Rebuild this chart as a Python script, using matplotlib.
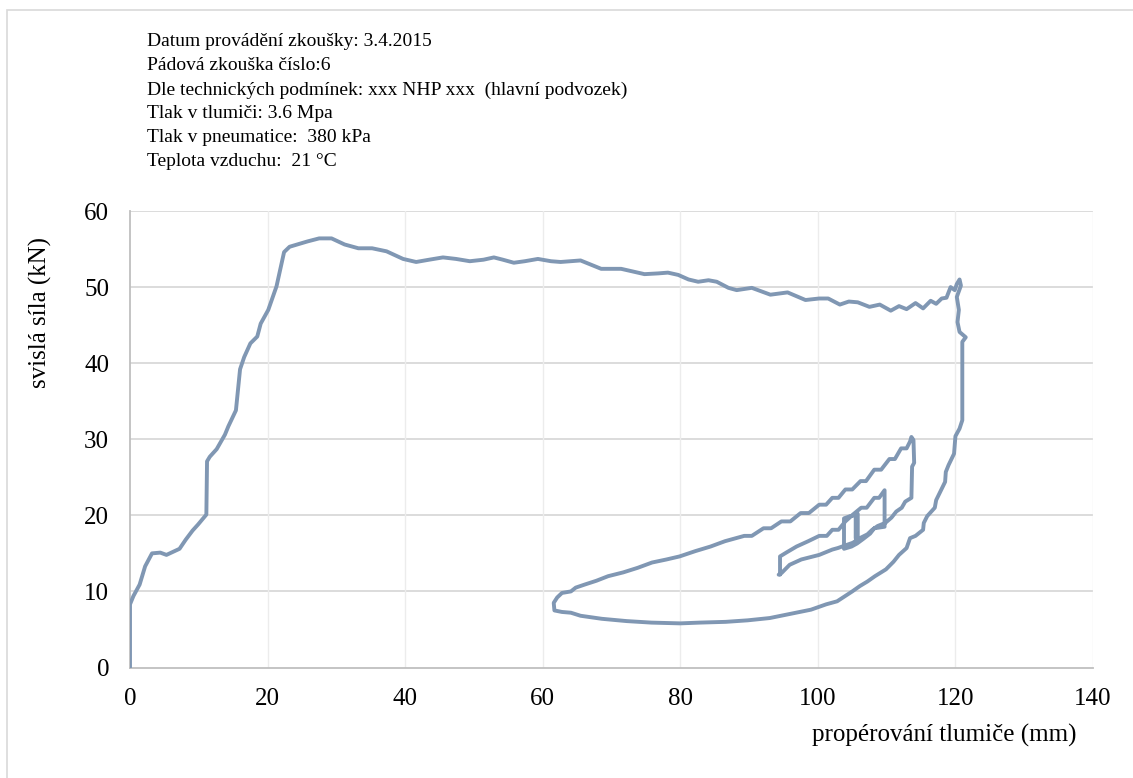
import matplotlib
matplotlib.use("Agg")
import matplotlib.pyplot as plt
from matplotlib.patches import Rectangle

plt.rcParams["font.family"] = ["Liberation Serif", "DejaVu Serif"]

# zdvih tlumiče (mm) a svislá síla (kN), jeden záznam pádové zkoušky
stroke = [
    # stlačení
    0.0, 0.0, 0.5, 1.4, 2.2, 3.2, 4.4, 5.3, 7.2, 8.1, 9.1, 9.9, 11.1, 11.2,
    11.6, 12.6, 13.8, 14.3, 15.4, 16.0, 16.6, 17.5, 18.5, 19.0, 20.1, 21.3,
    22.4, 23.2, 24.3, 25.8, 27.5, 29.3, 31.2, 33.2, 35.2, 37.3, 39.7, 41.6,
    43.5, 45.5, 47.4, 49.4, 51.4, 52.9, 54.2, 55.8, 57.4, 59.3, 61.2, 62.6,
    65.5, 68.5, 71.4, 74.8, 76.8, 78.2, 79.7, 81.2, 82.6, 84.1, 85.3, 87.0,
    88.2, 90.4, 93.1, 95.6, 98.2, 100.2, 101.5, 103.2, 104.5, 105.8, 107.5,
    109.0, 110.6, 111.8, 112.9, 114.2, 115.3, 116.4, 117.2, 118.0, 118.7,
    119.3, 119.9, 120.2, 120.6, 120.8, 120.2, 120.5, 120.3, 120.6, 121.5,
    121.0, 121.0, 121.0,
    # odlehčení a dokmity
    120.6, 120.0, 119.8, 119.0, 118.6, 118.5, 117.8, 117.2, 117.0, 115.9,
    115.4, 115.3, 114.2, 113.4, 112.9, 111.8, 111.0, 109.9, 109.0, 108.3,
    107.2, 106.1, 105.0, 102.8, 101.2, 99.0, 96.3, 93.0, 89.8, 86.6, 82.8,
    80.0, 75.8, 72.2, 68.6, 65.5, 64.1, 62.8, 61.7, 61.6, 62.1, 62.8, 64.1,
    64.8, 66.1, 67.8, 69.5, 71.7, 73.8, 75.9, 78.0, 79.9, 82.2, 84.4, 86.5,
    89.3, 90.4, 92.1, 93.2, 94.7, 96.0, 97.5, 98.7, 100.2, 101.2, 102.1,
    103.0, 104.0, 105.0, 106.2, 107.0, 108.2, 109.2, 110.4, 111.2, 112.1,
    112.9, 113.4, 113.6, 113.9, 114.0, 113.7, 113.6, 112.7, 112.2, 111.4,
    110.7, 109.8, 108.7, 107.9, 107.2, 106.1, 105.1, 102.9, 102.1, 100.2,
    97.6, 95.9, 94.7, 94.3, 94.5, 94.5, 95.4, 96.9, 98.6, 100.2, 101.3,
    102.1, 103.0, 104.0, 105.1, 106.3, 107.1, 107.6, 108.2, 108.9, 109.7,
    109.7, 108.2, 107.6, 106.6, 105.7, 104.9, 103.8, 103.8, 104.7, 105.5,
    105.5, 105.8, 105.8,
]
force = [
    0.0, 8.3, 9.4, 10.9, 13.3, 15.0, 15.1, 14.8, 15.6, 16.8, 18.0, 18.8, 20.1,
    27.1, 27.7, 28.7, 30.6, 31.7, 33.8, 39.2, 40.8, 42.6, 43.5, 45.2, 47.0,
    50.1, 54.6, 55.3, 55.6, 56.0, 56.4, 56.4, 55.6, 55.1, 55.1, 54.7, 53.7,
    53.3, 53.6, 53.9, 53.7, 53.4, 53.6, 53.9, 53.6, 53.2, 53.4, 53.7, 53.4,
    53.3, 53.5, 52.4, 52.4, 51.7, 51.8, 51.9, 51.6, 51.0, 50.7, 50.9, 50.7,
    49.9, 49.6, 49.9, 49.0, 49.3, 48.3, 48.5, 48.5, 47.7, 48.1, 48.0, 47.4,
    47.7, 46.9, 47.5, 47.1, 47.9, 47.2, 48.2, 47.8, 48.5, 48.6, 50.0, 49.6,
    50.4, 51.0, 50.2, 48.7, 47.0, 45.4, 44.1, 43.4, 42.8, 35.0, 32.5,
    31.4, 30.4, 28.1, 26.6, 25.7, 24.4, 23.1, 22.0, 21.0, 19.9, 19.0, 18.1,
    17.3, 17.0, 15.7, 14.8, 13.9, 12.9, 12.4, 12.0, 11.3, 10.7, 10.0, 8.7,
    8.3, 7.6, 7.1, 6.5, 6.2, 6.0, 5.9, 5.8, 5.9, 6.1, 6.4, 6.8, 7.2, 7.3,
    7.5, 8.5, 9.2, 9.8, 10.0, 10.5, 10.9, 11.4, 12.0, 12.5, 13.1, 13.8, 14.2,
    14.6, 15.3, 15.9, 16.6, 17.3, 17.3, 18.3, 18.3, 19.2, 19.2, 20.3, 20.3,
    21.4, 21.4, 22.3, 22.3, 23.4, 23.4, 24.5, 24.5, 26.0, 26.0, 27.4, 27.4,
    28.8, 28.8, 29.7, 30.3, 29.9, 26.9, 26.4, 22.3, 21.8, 21.0, 20.5, 19.7,
    19.0, 18.6, 18.1, 17.5, 17.0, 16.4, 15.7, 15.5, 14.8, 14.2, 13.5, 12.4,
    12.2, 12.2, 14.6, 15.1, 15.9, 16.6, 17.3, 17.3, 18.1, 18.1, 19.2, 20.1,
    21.0, 21.0, 21.6, 22.3, 22.3, 23.3, 18.5, 18.3, 17.6, 16.9, 16.3, 15.9,
    15.6, 19.6, 19.9, 20.0, 17.0, 17.2, 20.2,
]

info_lines = [
    "Datum provádění zkoušky: 3.4.2015",
    "Pádová zkouška číslo:6",
    "Dle technických podmínek: xxx NHP xxx  (hlavní podvozek)",
    "Tlak v tlumiči: 3.6 Mpa",
    "Tlak v pneumatice:  380 kPa",
    "Teplota vzduchu:  21 °C",
]

W, H = 1133, 778
fig = plt.figure(figsize=(W / 100, H / 100), dpi=100)
ax = fig.add_axes([130 / W, 1 - 667.5 / H, (1093 - 130) / W, (667.5 - 211) / H])

# rámeček grafu
fig.patches.append(Rectangle((7 / W, -0.1), 1.2, 1.1 - 10 / H,
                             transform=fig.transFigure, fill=False,
                             edgecolor="#d9d9d9", linewidth=1.2))

ax.plot(stroke, force, color="#8097b3", linewidth=2.8, solid_joinstyle="round",
        solid_capstyle="round", zorder=3)

ax.set_xlim(0, 140)
ax.set_ylim(0, 60)
ax.set_xticks(range(0, 141, 20))
ax.set_yticks(range(0, 61, 10))

for y in range(10, 61, 10):
    ax.axhline(y, color="#d9d9d9", linewidth=1.3, zorder=1)
for x in range(20, 141, 20):
    ax.axvline(x, color="#ececec", linewidth=1.0, zorder=1)

for side in ("top", "right"):
    ax.spines[side].set_visible(False)
for side in ("left", "bottom"):
    ax.spines[side].set_color("#bfbfbf")
    ax.spines[side].set_linewidth(1.3)

ax.tick_params(length=0, labelsize=18, colors="black")
ax.tick_params(axis="x", pad=15)
ax.tick_params(axis="y", pad=15)

fig.text(40 / W, 1 - 312 / H, "svislá síla (kN)", rotation=90, fontsize=18,
         ha="center", va="center")
fig.text(1077 / W, 1 - 735 / H, "propérování tlumiče (mm)", fontsize=18,
         ha="right", va="center")

for i, line in enumerate(info_lines):
    fig.text(147 / W, 1 - (42 + 24 * i) / H, line, fontsize=14,
             ha="left", va="center")

fig.savefig("out.png", dpi=100)
